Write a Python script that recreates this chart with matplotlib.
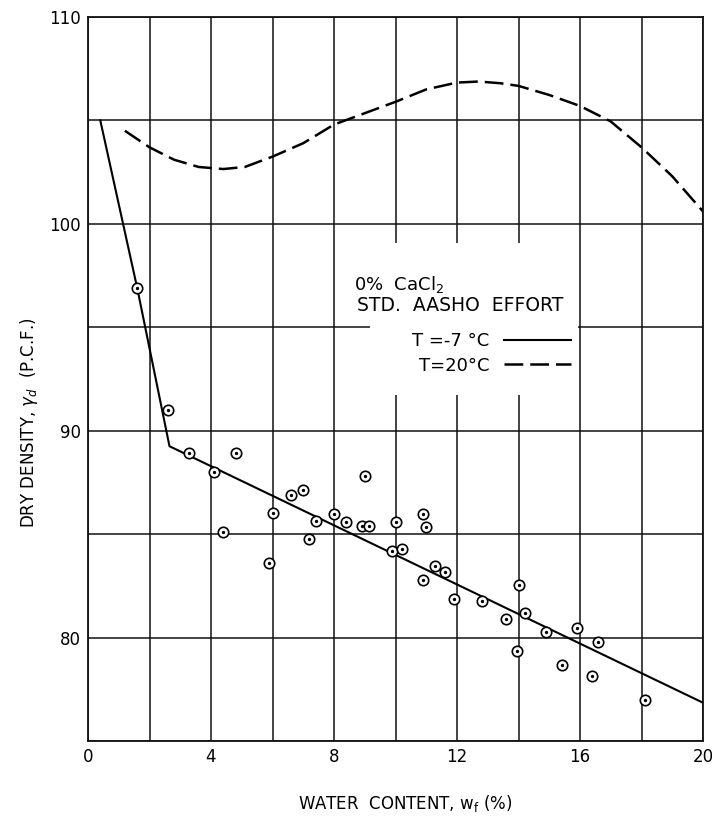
import numpy as np
import matplotlib
matplotlib.use('Agg')
import matplotlib.pyplot as plt
from matplotlib.patches import Rectangle

# Compacted specimens at T = -7 C: water content (%) vs dry density (pcf)
w_pts = [1.6, 2.6, 3.3, 4.1, 4.8, 4.4, 6.0, 5.9, 6.6, 7.0, 7.2, 7.4, 8.0, 8.4,
         8.9, 9.0, 9.15, 9.9, 10.0, 10.2, 10.9, 11.0, 10.9, 11.3, 11.6, 11.9,
         12.8, 13.6, 14.0, 14.2, 13.95, 14.9, 15.4, 15.9, 16.4, 16.6, 18.1]
gd_pts = [96.9, 91.0, 88.9, 88.0, 88.9, 85.1, 86.0, 83.6, 86.9, 87.15, 84.75,
          85.65, 85.95, 85.6, 85.4, 87.8, 85.4, 84.2, 85.6, 84.3, 85.95, 85.35,
          82.8, 83.45, 83.15, 81.85, 81.75, 80.9, 82.55, 81.2, 79.35, 80.25,
          78.65, 80.45, 78.15, 79.8, 77.0]

# Fitted line at T = -7 C
w_fit = [0.4, 1.6, 2.65, 20.0]
gd_fit = [105.0, 96.9, 89.25, 76.85]

# Compaction curve at T = 20 C
w_20 = [1.2, 2.0, 2.8, 3.6, 4.4, 5.1, 6.0, 7.0, 8.0, 9.0, 10.0, 11.0, 12.0,
        12.7, 13.4, 14.0, 15.0, 16.0, 17.0, 18.0, 19.0, 20.0]
gd_20 = [104.5, 103.7, 103.1, 102.75, 102.65, 102.75, 103.25, 103.9, 104.8,
         105.35, 105.9, 106.5, 106.83, 106.88, 106.8, 106.67, 106.23, 105.7,
         104.95, 103.7, 102.3, 100.6]

x_ticks = [0, 4, 8, 12, 16, 20]
y_ticks = [80, 90, 100, 110]

plt.rcParams['font.family'] = ['DejaVu Sans']

fig = plt.figure(figsize=(7.12, 8.25), dpi=100)
ax = fig.add_axes([88/712, 1 - 741/825, 615/712, 724/825])

ax.set_xlim(0, 20)
ax.set_ylim(75, 110)
ax.set_xticks(np.arange(0, 21, 2), minor=True)
ax.set_yticks(np.arange(75, 111, 5), minor=True)
ax.set_xticks(x_ticks)
ax.set_yticks(y_ticks)
ax.set_axisbelow(True)
ax.grid(True, which='both', color='#111111', lw=1.1)
ax.tick_params(which='both', length=0, labelsize=12, pad=5)
for s in ax.spines.values():
    s.set_linewidth(1.3)
    s.set_color('#111111')
    s.set_zorder(5)

ax.plot(w_fit, gd_fit, '-', color='black', lw=1.5, zorder=3,
        label='T =-7 \u00b0C')
ax.plot(w_20, gd_20, color='black', lw=1.8, dashes=(7.5, 2.8), zorder=3,
        label='T=20\u00b0C')
ax.plot(w_pts, gd_pts, 'o', ms=7.5, mfc='white', mec='black', mew=1.2,
        zorder=4)
ax.plot(w_pts, gd_pts, 'o', ms=1.4, color='black', zorder=5)

# blank panel behind the key
ax.add_patch(Rectangle((0.4585, 0.478), 0.3385, 0.21, transform=ax.transAxes,
                       facecolor='white', edgecolor='none', zorder=1.8))
ax.text(0.433, 0.631, '0%  CaCl$_2$', transform=ax.transAxes, fontsize=13,
        ha='left', va='center', zorder=6)
ax.text(0.437, 0.601, 'STD.  AASHO  EFFORT', transform=ax.transAxes,
        fontsize=13.5, ha='left', va='center', zorder=6)

leg = ax.legend(loc='upper left', bbox_to_anchor=(0.527, 0.5645), fontsize=13,
                markerfirst=False, handlelength=3.7, handletextpad=0.8,
                borderpad=0, borderaxespad=0, labelspacing=0.35,
                frameon=False)
leg.set_zorder(6)

fig.text(405/712, 1 - 804/825, 'WATER  CONTENT, $\\mathregular{w_f}$ (%)',
         ha='center', va='center', fontsize=12)
fig.text(29/712, 1 - 423/825, 'DRY DENSITY, $\\gamma_d$  (P.C.F.)',
         ha='center', va='center', rotation=90, fontsize=12)

fig.savefig('out.png', dpi=100, facecolor='white')
